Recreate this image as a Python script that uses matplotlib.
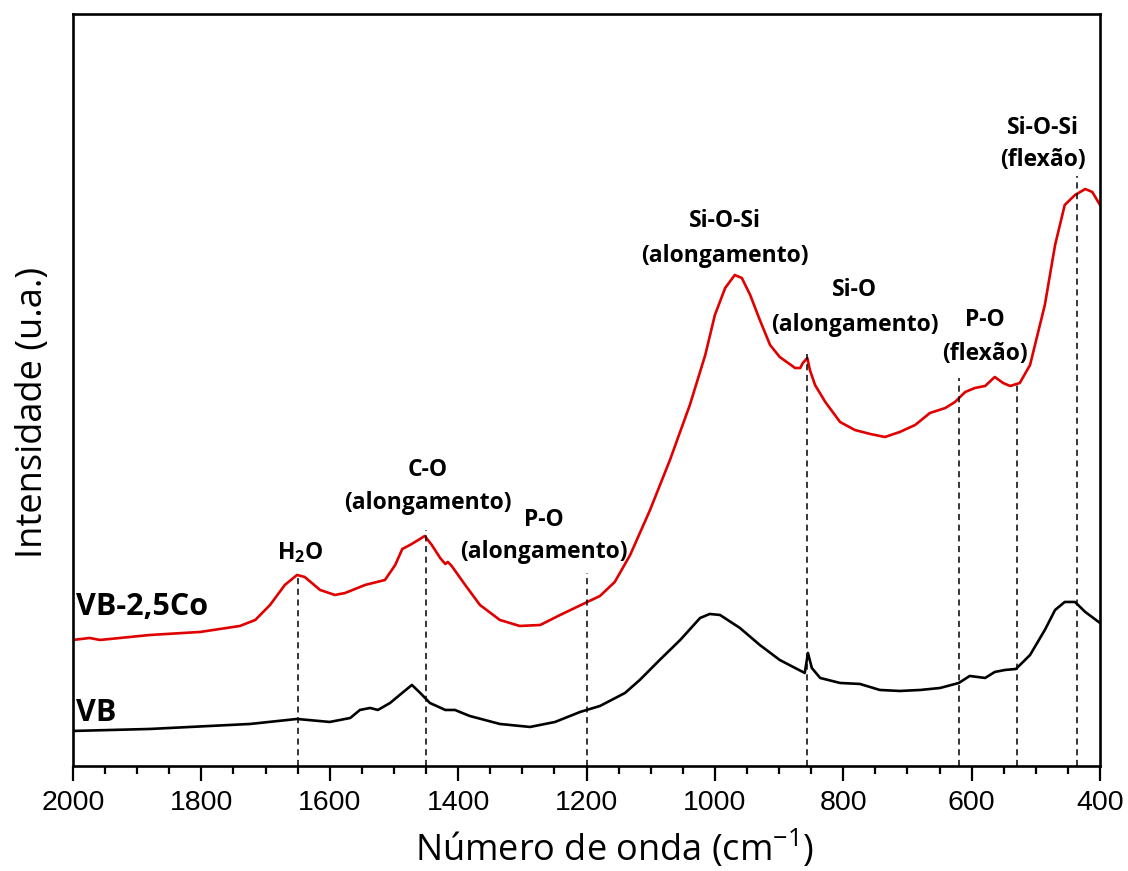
import numpy as np
import matplotlib.pyplot as plt
from matplotlib.ticker import MultipleLocator

plt.rcParams['mathtext.fontset'] = 'custom'
plt.rcParams['mathtext.rm'] = 'Open Sans'
plt.rcParams['mathtext.bf'] = 'Open Sans:bold'

# VB-2,5Co spectrum (red)
wn_co = [2000, 1974, 1958, 1880, 1802, 1740, 1716, 1693, 1670, 1651, 1639, 1615, 1592,
         1576, 1545, 1514, 1498, 1487, 1475, 1462, 1452, 1441, 1428, 1420, 1416, 1410,
         1389, 1366, 1335, 1304, 1272, 1241, 1202, 1179, 1156, 1132, 1101, 1070, 1039,
         1015, 1000, 984, 969, 958, 945, 930, 914, 899, 875, 867, 863, 856, 852, 844,
         828, 805, 782, 758, 735, 712, 688, 665, 641, 626, 610, 595, 579, 564, 551, 540,
         525, 509, 486, 470, 455, 439, 423, 412, 400]
int_co = [126, 128, 126, 131, 134, 140, 146, 161, 181, 191, 189, 176, 171,
          173, 181, 186, 201, 217, 221, 226, 230, 221, 208, 202, 204, 200,
          181, 161, 146, 140, 141, 151, 163, 170, 184, 211, 256, 306, 361,
          411, 451, 478, 491, 488, 471, 446, 421, 409, 398, 398, 403, 408, 396, 381,
          364, 344, 336, 332, 329, 334, 341, 353, 358, 364, 374, 378, 380, 389, 383, 380,
          383, 401, 461, 521, 561, 571, 577, 574, 561]

# VB spectrum (black)
wn_vb = [2000, 1880, 1724, 1651, 1600, 1568, 1553, 1537, 1525, 1506, 1491, 1472, 1459,
         1444, 1420, 1405, 1382, 1335, 1288, 1249, 1210, 1179, 1140, 1117, 1086, 1054,
         1023, 1008, 992, 961, 930, 899, 875, 860, 855, 849, 836, 805, 774, 743, 712,
         680, 649, 620, 603, 579, 564, 548, 531, 509, 486, 470, 455, 439, 423, 400]
int_vb = [35, 37, 42, 47, 44, 48, 56, 58, 56, 63, 71, 81, 73,
          63, 56, 56, 50, 42, 39, 44, 54, 60, 73, 86, 106, 126,
          148, 152, 151, 138, 121, 106, 98, 93, 113, 98, 88, 83, 82, 76, 75,
          76, 78, 83, 90, 88, 94, 96, 97, 111, 136, 156, 164, 164, 154, 143]

# band positions (dashed markers) and how high they reach
band_pos = [1650, 1450, 1200, 857, 620, 530, 436]
band_top = [190, 236, 193, 412, 388, 383, 590]

# band labels: (line1, line2, x, y1, y2)
band_labels = [
    ("H$_\\mathbf{2}$O", None, 1646, 213, None),
    ("C-O", "(alongamento)", 1447, 296, 263),
    ("P-O", "(alongamento)", 1266, 246, 214),
    ("Si-O-Si", "(alongamento)", 984, 545, 510),
    ("Si-O", "(alongamento)", 782, 476, 441),
    ("P-O", "(flexão)", 579, 446, 412),
    ("Si-O-Si", "(flexão)", 489, 638, 606),
]

fig = plt.figure(figsize=(11.28, 8.71), dpi=100)
ax = fig.add_axes([0.0647, 0.1206, 0.9105, 0.8633])

ax.plot(wn_co, int_co, color='#e00000', lw=1.9)
ax.plot(wn_vb, int_vb, color='black', lw=1.9)

for p, t in zip(band_pos, band_top):
    ax.plot([p, p], [0, t], color='black', lw=1.1, ls=(0, (4, 3)))

lab_font = dict(family='Open Sans', fontweight='bold', fontsize=16.5, ha='center', va='center')
for l1, l2, x, y1, y2 in band_labels:
    ax.text(x, y1, l1, **lab_font)
    if l2:
        ax.text(x, y2, l2, **lab_font)

ax.text(1995, 159, "VB-2,5Co", family='Open Sans', fontweight='bold', fontsize=22,
        ha='left', va='center')
ax.text(1995, 53, "VB", family='Open Sans', fontweight='bold', fontsize=22,
        ha='left', va='center')

ax.set_xlim(2000, 400)
ax.set_ylim(0, 752)
ax.xaxis.set_major_locator(MultipleLocator(200))
ax.xaxis.set_minor_locator(MultipleLocator(50))
ax.set_yticks([])
ax.tick_params(axis='x', which='major', length=11, width=1.6, direction='out', pad=6,
               labelsize=20.5)
ax.tick_params(axis='x', which='minor', length=5.5, width=1.6, direction='out')
for lab in ax.get_xticklabels():
    lab.set_family('Liberation Sans')
for s in ax.spines.values():
    s.set_linewidth(1.9)

ax.set_xlabel("Número de onda (cm$^{-1}$)", family='Open Sans', fontsize=26)
ax.set_ylabel("Intensidade (u.a.)", family='Open Sans', fontsize=26)
ax.xaxis.set_label_coords(0.527, -0.082)
ax.yaxis.set_label_coords(-0.021, 0.47)

fig.savefig('out.png', dpi=100)
